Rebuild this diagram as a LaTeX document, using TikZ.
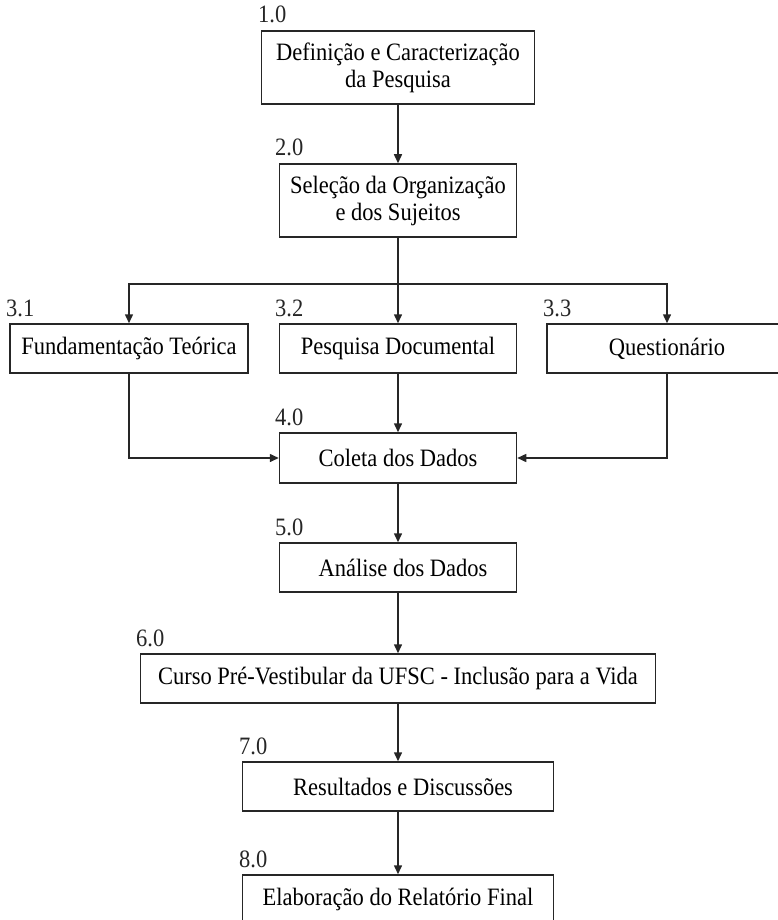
\documentclass[tikz,border=0pt]{standalone}
\usepackage{fontspec}
\setmainfont{Liberation Serif}[FakeStretch=0.9]
\newcommand{\traco}{black!85}
\newcommand{\fonte}{\fontsize{25}{27}\selectfont}
\usepackage{tikz}
\usetikzlibrary{arrows.meta}

\begin{document}
\begin{tikzpicture}[x=1pt, y=-1pt,
    etapa/.style={draw=\traco, line width=1.5pt, inner sep=0pt, align=center, font=\fonte},
    numero/.style={anchor=base west, inner sep=0pt, font=\fonte, text=\traco},
    seta/.style={draw=\traco, line width=1.5pt, -{Triangle[length=9pt, width=8pt]}}]

    \useasboundingbox (0, 0) rectangle (778, 920);
    \clip (0, 0) rectangle (778, 920);

    % caixas
    \node[etapa, minimum width=273, minimum height=73] (b1) at (398, 67.5) {Definição e Caracterização\\da Pesquisa};
    \node[etapa, minimum width=237, minimum height=73] (b2) at (398, 200.5) {Seleção da Organização\\e dos Sujeitos};
    \node[etapa, minimum width=238, minimum height=49] (b31) at (129, 348.5) {Fundamentação Teórica};
    \node[etapa, minimum width=237, minimum height=49] (b32) at (398, 348.5) {Pesquisa Documental};
    \node[etapa, minimum width=240, minimum height=49] (b33) at (667, 348.5) {Questionário};
    \node[etapa, minimum width=237, minimum height=50] (b4) at (398, 458) {Coleta dos Dados};
    \node[etapa, minimum width=237, minimum height=49] (b5) at (398, 567.5) {\hspace{10pt}Análise dos Dados};
    \node[etapa, minimum width=515, minimum height=49] (b6) at (398, 678.5) {Curso Pré-Vestibular da UFSC - Inclusão para a Vida};
    \node[etapa, minimum width=311, minimum height=49] (b7) at (398, 786.5) {\hspace{10pt}Resultados e Discussões};
    \node[etapa, minimum width=311, minimum height=49] (b8) at (398, 899.5) {Elaboração do Relatório Final};

    % numeros das etapas
    \node[numero] (n1) at (258, 23) {1.0};
    \node[numero] (n2) at (275, 156) {2.0};
    \node[numero] (n31) at (6, 316) {3.1};
    \node[numero] (n32) at (275, 316) {3.2};
    \node[numero] (n33) at (543, 316) {3.3};
    \node[numero] (n4) at (275, 425) {4.0};
    \node[numero] (n5) at (275, 535) {5.0};
    \node[numero] (n6) at (136, 646) {6.0};
    \node[numero] (n7) at (239, 754) {7.0};
    \node[numero] (n8) at (239, 867) {8.0};

    % ligacoes
    \coordinate (ramo) at (398, 284);
    \draw[seta] (b1) -- (b2);
    \draw[draw=\traco, line width=1.5pt] (b2) -- (ramo);
    \draw[seta] (ramo) -| (b31);
    \draw[seta] (ramo) -- (b32);
    \draw[seta] (ramo) -| (b33);
    \draw[seta] (b31) |- (b4);
    \draw[seta] (b32) -- (b4);
    \draw[seta] (b33) |- (b4);
    \draw[seta] (b4) -- (b5);
    \draw[seta] (b5) -- (b6);
    \draw[seta] (b6) -- (b7);
    \draw[seta] (b7) -- (b8);

\end{tikzpicture}
\end{document}
